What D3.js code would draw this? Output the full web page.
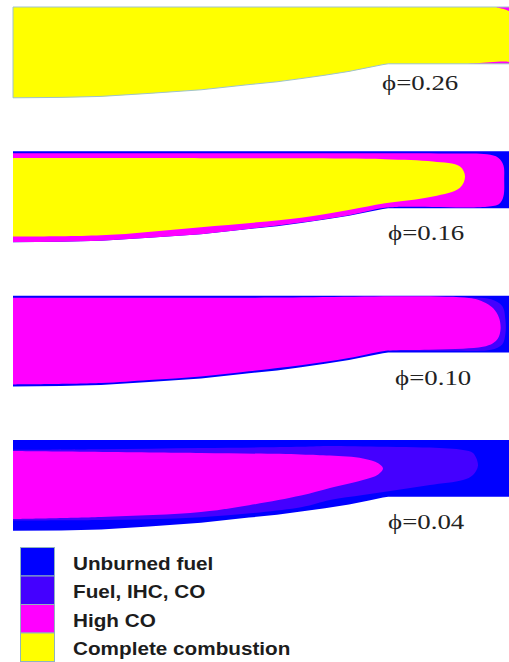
<!DOCTYPE html>
<html>
<head>
<meta charset="utf-8">
<script src="https://cdn.jsdelivr.net/npm/d3@7"></script>
<style>
  html, body { margin: 0; padding: 0; background: #fff; }
  svg { display: block; }
</style>
</head>
<body>
<svg id="chart" width="509" height="662"></svg>
<script>
// Combustor liner profile: axial distance from the head end (mm) and depth of the wall below the top (mm)
const wallAxial = [0, 12, 22, 34, 47, 59, 66, 72, 78, 84, 89, 92.5, 93.8, 124.5];
const wallDepth = [22.7, 22.6, 22.35, 21.6, 20.7, 19.4, 18.7, 17.9, 17.05, 16.1, 15.1, 14.4, 14.2, 14.2];

// Equivalence ratio of each case, top to bottom
const equivalenceRatios = ["0.26", "0.16", "0.10", "0.04"];

// Emission zones and their colours
const zoneNames = ["Unburned fuel", "Fuel, IHC, CO", "High CO", "Complete combustion"];
const zoneColors = ["#0000ff", "#4400ff", "#ff00ff", "#ffff00"];

// Zone that fills the rest of the liner in each case (index into zoneNames)
const backgroundZone = [3, 0, 0, 0];

// Zone contours, [axial mm, depth mm], traced clockwise from the head end
// phi = 0.26
const phi026HighCOTop = [[120.5, -0.5], [124.5, -0.5], [124.5, 1.0], [122.5, 0.45], [121, 0.1]];
const phi026HighCOBottom = [[110, 14.6], [116, 14.05], [124.5, 13.95], [124.5, 14.8]];
// phi = 0.16
const phi016HighCO = [[0, 0.5], [60, 0.5], [110, 0.55], [118.5, 0.75], [121.3, 1.6], [122.6, 3.5], [122.8, 7],
  [122.6, 11.3], [121.6, 13.1], [118.5, 13.85], [96, 13.9], [92.5, 14.15], [84, 15.95], [72, 17.8],
  [59, 19.4], [47, 20.8], [34, 21.8], [22, 22.6], [0, 23]];
const phi016Complete = [[0, 1.7], [47, 1.7], [72, 1.75], [93, 1.95], [105, 2.55], [111.75, 3.8], [113, 6.3],
  [111.75, 9.1], [105, 11.3], [93, 13.0], [84.25, 14.6], [72, 16.6], [47, 18.95], [22, 21.0], [0, 21.3]];
// phi = 0.10
const phi010FuelIHC = [[94, 0.45], [114, 0.45], [119.5, 0.9], [122.3, 2.6], [123.1, 6], [123.1, 9.5],
  [122.3, 12.2], [119.5, 13.55], [110, 13.75], [94, 13.75]];
const phi010HighCO = [[0, 0.5], [60, 0.5], [114, 0.6], [117.5, 1.5], [120, 3.1], [121.5, 5.5], [121.9, 8.3],
  [121.3, 10.6], [120, 11.9], [117.5, 12.8], [112.5, 13.25], [104, 13.5], [95, 13.65], [92.5, 13.9],
  [84, 15.6], [72, 17.4], [59, 18.9], [47, 20.2], [34, 21.1], [22, 21.85], [0, 22.2]];
// phi = 0.04
const phi004FuelIHC = [[0, 2.45], [22, 2.3], [47, 2.0], [72, 1.7], [79.25, 1.5], [87.5, 1.6], [104.25, 1.9],
  [112.5, 2.5], [115, 3.25], [116.25, 6.4], [115, 8.75], [112.5, 10], [104.25, 11.25], [96, 12.5],
  [87.5, 13.75], [79.25, 15], [72, 16.8], [47, 19.3], [22, 20], [0, 20.1]];
const phi004HighCO = [[0, 2.75], [47, 3.25], [72, 3.6], [79.25, 3.9], [87.5, 4.6], [91.3, 5.8], [92.5, 7.1],
  [91.3, 8.6], [87.5, 10.0], [79.25, 12.0], [72, 13.9], [59, 16.3], [47, 18.0], [22, 19.25], [0, 19.75]];

// Layers drawn inside the liner for each case: [zone index, contour]
const caseLayers = [
  [[2, phi026HighCOTop], [2, phi026HighCOBottom]],
  [[2, phi016HighCO], [3, phi016Complete]],
  [[1, phi010FuelIHC], [2, phi010HighCO]],
  [[1, phi004FuelIHC], [2, phi004HighCO]]
];

const wall = wallAxial.map((a, i) => [a, wallDepth[i]]);

const svg = d3.select("#chart");

const x = d3.scaleLinear().domain([0, 124]).range([13, 509]);
const y = d3.scaleLinear().domain([0, 22.75]).range([0, 91]);
const panelTop = d3.scaleLinear().domain([0, equivalenceRatios.length - 1]).range([7, 440]);

const wallArea = d3.area()
  .x(d => x(d[0]))
  .y0(y(0))
  .y1(d => y(d[1]))
  .curve(d3.curveLinear);

const contour = d3.line()
  .x(d => x(d[0]))
  .y(d => y(d[1]))
  .curve(d3.curveCatmullRom.alpha(0.5));

// label placement per panel: baseline below panel top and left edge
const labelLayout = [[83, 382], [88.5, 388], [89, 395], [89, 388]];

equivalenceRatios.forEach((phi, i) => {
  const g = svg.append("g").attr("transform", `translate(0,${panelTop(i)})`);

  const clipId = `liner-${i}`;
  g.append("clipPath").attr("id", clipId)
    .append("path").attr("d", wallArea(wall));

  g.append("path")
    .attr("d", wallArea(wall))
    .attr("fill", zoneColors[backgroundZone[i]]);

  const inner = g.append("g").attr("clip-path", `url(#${clipId})`);
  caseLayers[i].forEach(([zone, pts]) => {
    inner.append("path")
      .attr("d", contour(pts))
      .attr("fill", zoneColors[zone]);
  });

  if (i === 0) {
    g.append("path")
      .attr("d", wallArea(wall))
      .attr("fill", "none")
      .attr("stroke", "#9fc3cb")
      .attr("stroke-width", 1);
  }

  const [dy, lx] = labelLayout[i];
  const t = g.append("text")
    .attr("x", lx)
    .attr("y", dy)
    .attr("font-family", "'Liberation Serif', 'Times New Roman', serif")
    .attr("font-size", 22)
    .attr("fill", "#222")
    .text(`\u03D5=${phi}`);
  const w = t.node().getComputedTextLength();
  t.attr("textLength", w * 1.22).attr("lengthAdjust", "spacingAndGlyphs");
});

// Legend
const legendY = d3.scaleBand().domain(zoneNames).range([547.5, 661.5]);
const legend = svg.append("g");
zoneNames.forEach((name, i) => {
  legend.append("rect")
    .attr("x", 20.5)
    .attr("y", legendY(name))
    .attr("width", 34)
    .attr("height", legendY.bandwidth())
    .attr("fill", zoneColors[i])
    .attr("stroke", "#8fb4bc")
    .attr("stroke-width", 1);
  const t = legend.append("text")
    .attr("x", 73)
    .attr("y", legendY(name) + legendY.bandwidth() - 6.5)
    .attr("font-family", "'Liberation Sans', Arial, sans-serif")
    .attr("font-weight", "bold")
    .attr("font-size", 18)
    .attr("fill", "#1c1c1c")
    .text(name);
  const w = t.node().getComputedTextLength();
  t.attr("textLength", w * 1.15).attr("lengthAdjust", "spacingAndGlyphs");
});
</script>
</body>
</html>
